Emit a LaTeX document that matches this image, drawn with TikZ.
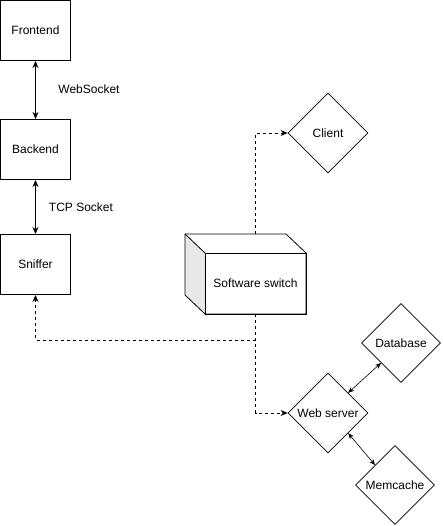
\documentclass[tikz,border=0pt]{standalone}
\usepackage{fontspec}
\setmainfont{Liberation Sans}
\usetikzlibrary{shapes.geometric,arrows.meta}
\begin{document}
\begin{tikzpicture}[x=1pt,y=-1pt,
  font=\fontsize{12pt}{14pt}\selectfont,
  sq/.style={draw,line width=1pt,minimum width=70pt,minimum height=60pt,inner sep=0pt},
  dia/.style={draw,diamond,line width=0.8pt,minimum width=80pt,minimum height=80pt,inner sep=0pt},
  dbl/.style={line width=1pt,{Stealth[length=7pt,width=6pt]}-{Stealth[length=7pt,width=6pt]}},
  thin2/.style={line width=0.6pt,{Stealth[length=6pt,width=5pt]}-{Stealth[length=6pt,width=5pt]}},
  dsh/.style={line width=0.8pt,dash pattern=on 3pt off 3pt,-{Stealth[length=7pt,width=6pt]}},
  dshn/.style={line width=0.8pt,dash pattern=on 3pt off 3pt}]
\useasboundingbox (0,0) rectangle (443,526);
% left boxes
\node[sq] (fe) at (35.5,30.5) {Frontend};
\node[sq] (be) at (35.5,149.5) {Backend};
\node[sq] (sn) at (35.5,264.5) {Sniffer};
\draw[dbl] (fe.south) -- (be.north);
\draw[dbl] (be.south) -- (sn.north);
\node (lws) at (89,89) {WebSocket};
\node (ltcp) at (81,207) {TCP Socket};
% software switch
\fill[gray!18] (185,234) -- (205,253) -- (205,314) -- (185,295) -- cycle;
\draw[line width=0.8pt] (185,234) -- (286,234) -- (306,253) -- (306,314) -- (205,314) -- (185,295) -- cycle;
\draw[line width=0.8pt] (185,234) -- (205,253);
\node[draw,line width=0.8pt,minimum width=101pt,minimum height=61pt,inner sep=0pt] (sw) at (255.5,283.5) {Software switch};
\coordinate (swtop) at (255.5,234);
% diamonds
\node[dia] (cl) at (328,133) {Client};
\node[dia] (ws) at (328,413) {Web server};
\node[dia,minimum width=79pt,minimum height=79pt] (db) at (401,343) {Database};
\node[dia,minimum width=79pt,minimum height=79pt] (mc) at (395,485) {Memcache};
% dashed connectors
\draw[dsh] (swtop) |- (cl.west);
\draw[dsh] (sw.south) |- (ws.west);
\coordinate (br) at (255.5,340);
\draw[dsh] (br) -| (sn.south);
% thin arrows
\draw[thin2] (ws.north east) -- (db.south west);
\draw[thin2] (ws.south east) -- (mc.north west);
\end{tikzpicture}
\end{document}
